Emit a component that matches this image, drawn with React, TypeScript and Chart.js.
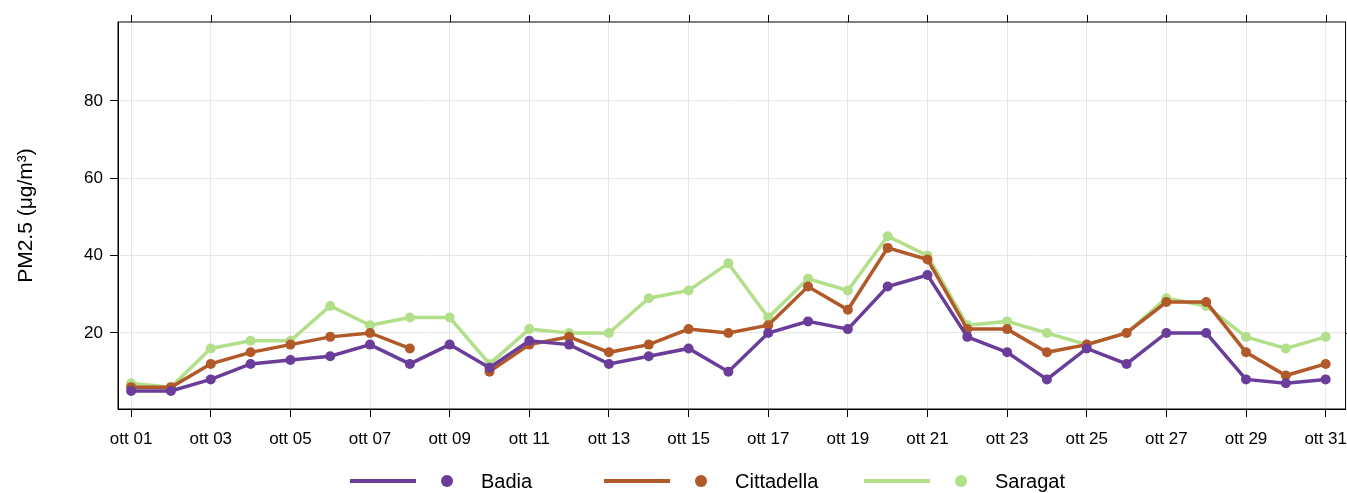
import { useEffect, useRef } from "react"
import { Chart, registerables } from "chart.js"

Chart.register(...registerables)

const days = Array.from({ length: 31 }, (_, i) => i + 1)
const dayTicks = [1, 3, 5, 7, 9, 11, 13, 15, 17, 19, 21, 23, 25, 27, 29, 31]
const yTicks = [20, 40, 60, 80]

const badia = [5, 5, 8, 12, 13, 14, 17, 12, 17, 11, 18, 17, 12, 14, 16, 10, 20, 23, 21, 32, 35, 19, 15, 8, 16, 12, 20, 20, 8, 7, 8]
const cittadella = [6, 6, 12, 15, 17, 19, 20, 16, null, 10, 17, 19, 15, 17, 21, 20, 22, 32, 26, 42, 39, 21, 21, 15, 17, 20, 28, 28, 15, 9, 12]
const saragat = [7, 6, 16, 18, 18, 27, 22, 24, 24, 12, 21, 20, 20, 29, 31, 38, 24, 34, 31, 45, 40, 22, 23, 20, 17, 20, 29, 27, 19, 16, 19]

const series = [
  { name: "Badia", values: badia, color: "#6a3d9a", left: 350 },
  { name: "Cittadella", values: cittadella, color: "#b15928", left: 604 },
  { name: "Saragat", values: saragat, color: "#b2df8a", left: 864 },
]

const FONT = "'Liberation Sans', Arial, sans-serif"

// box around the plot with ticks on top and right too
const framePlugin = {
  id: "frame",
  afterDraw(chart: any) {
    const { ctx, chartArea: a, scales } = chart
    ctx.save()
    ctx.strokeStyle = "#000"
    ctx.lineWidth = 1
    ctx.strokeRect(a.left, a.top, a.right - a.left, a.bottom - a.top)
    ctx.beginPath()
    for (const d of dayTicks) {
      const x = Math.round(scales.x.getPixelForValue(d)) + 0.5
      ctx.moveTo(x, a.top)
      ctx.lineTo(x, a.top - 7)
    }
    for (const v of yTicks) {
      const y = Math.round(scales.y.getPixelForValue(v)) + 0.5
      ctx.moveTo(a.right, y)
      ctx.lineTo(a.right + 7, y)
    }
    ctx.stroke()
    ctx.restore()
  },
}

export default function App() {
  const chartRef = useRef<HTMLCanvasElement>(null)
  const chartInstance = useRef<Chart | null>(null)

  useEffect(() => {
    document.body.style.margin = "0"
    if (!chartRef.current) return
    if (chartInstance.current) chartInstance.current.destroy()
    const ctx = chartRef.current.getContext("2d")
    if (!ctx) return

    chartInstance.current = new Chart(ctx, {
      type: "line",
      data: {
        datasets: series.map((s) => ({
          label: s.name,
          data: days.map((d, i) => ({ x: d, y: s.values[i] })),
          borderColor: s.color,
          backgroundColor: s.color,
          borderWidth: 3.5,
          pointRadius: 5,
          pointBorderWidth: 0,
          spanGaps: false,
        })),
      },
      options: {
        animation: false,
        responsive: true,
        maintainAspectRatio: false,
        layout: { padding: { top: 22, right: 0, left: 14, bottom: 0 } },
        plugins: { legend: { display: false }, tooltip: { enabled: false } },
        scales: {
          x: {
            type: "linear",
            min: 0.67,
            max: 31.5,
            afterBuildTicks: (scale: any) => {
              scale.ticks = dayTicks.map((v) => ({ value: v }))
            },
            afterFit: (scale: any) => {
              scale.height = 84
            },
            grid: { color: "#e6e6e6", tickColor: "#000", tickLength: 8 },
            border: { color: "#000" },
            ticks: {
              autoSkip: false,
              maxRotation: 0,
              color: "#000",
              font: { family: FONT, size: 17 },
              padding: 12,
              callback: (v: any) => "ott " + String(v).padStart(2, "0"),
            },
          },
          y: {
            min: 0.35,
            max: 100.4,
            afterBuildTicks: (scale: any) => {
              scale.ticks = yTicks.map((v) => ({ value: v }))
            },
            afterFit: (scale: any) => {
              scale.width = 104
            },
            grid: { color: "#e6e6e6", tickColor: "#000", tickLength: 8 },
            border: { color: "#000" },
            ticks: { color: "#000", font: { family: FONT, size: 17 }, padding: 7 },
            title: {
              display: true,
              text: "PM2.5 (μg/m³)",
              color: "#000",
              font: { family: FONT, size: 21 },
              padding: { top: 0, bottom: 12 },
            },
          },
        },
      },
      plugins: [framePlugin],
    } as any)

    return () => {
      if (chartInstance.current) chartInstance.current.destroy()
    }
  }, [])

  return (
    <div style={{ position: "relative", width: 1347, height: 493, fontFamily: FONT, overflow: "hidden" }}>
      <div style={{ position: "absolute", top: 0, left: 0, width: 1359, height: 493 }}>
        <canvas ref={chartRef} />
      </div>
      {series.map((s) => (
        <div
          key={s.name}
          style={{ position: "absolute", top: 469, left: s.left, height: 24, display: "flex", alignItems: "center", fontSize: 20, color: "#000" }}
        >
          <div style={{ width: 66, height: 4, background: s.color }} />
          <div style={{ width: 12, height: 12, borderRadius: 6, background: s.color, marginLeft: 25 }} />
          <span style={{ marginLeft: 28 }}>{s.name}</span>
        </div>
      ))}
    </div>
  )
}
